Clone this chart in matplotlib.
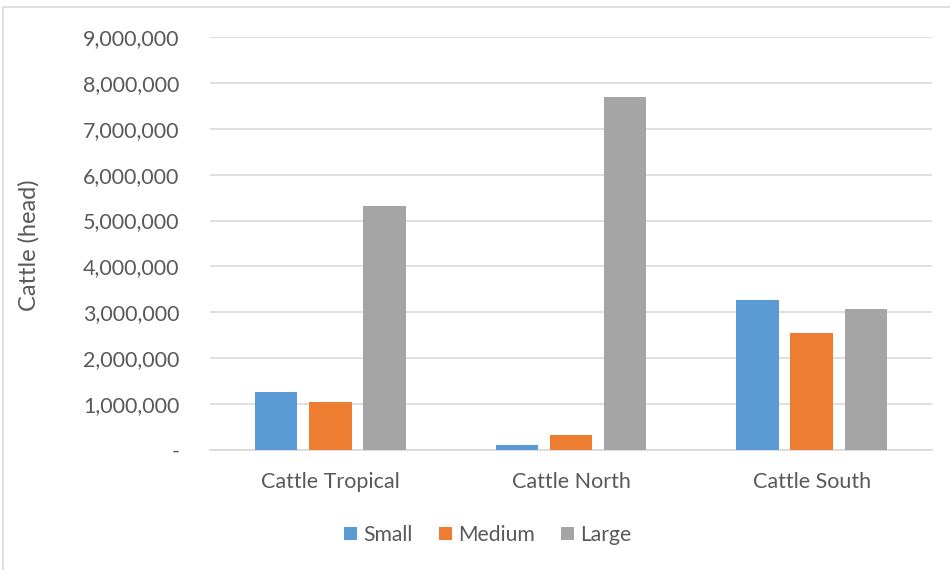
import matplotlib
matplotlib.use("Agg")
import matplotlib.pyplot as plt
from matplotlib.patches import Rectangle
from matplotlib.ticker import FuncFormatter
import numpy as np

categories = ["Cattle Tropical", "Cattle North", "Cattle South"]
series_names = ["Small", "Medium", "Large"]
small = [1270000, 100000, 3270000]
medium = [1040000, 320000, 2560000]
large = [5320000, 7690000, 3080000]
colors = ["#5B9BD5", "#ED7D31", "#A5A5A5"]

plt.rcParams['font.family'] = ['Lato', 'DejaVu Sans']
text_color = "#595959"

fig = plt.figure(figsize=(9.5, 5.7), dpi=100)
ax = fig.add_axes([210 / 950, 1 - 450 / 570, 722 / 950, 413 / 570])

x = np.arange(len(categories))
width = 0.176
step = 0.225
for j, (vals, name, c) in enumerate(zip([small, medium, large], series_names, colors)):
    ax.bar(x + (j - 1) * step, vals, width=width, color=c, label=name, zorder=3)

ax.set_xlim(-0.5, 2.5)
ax.set_ylim(0, 9000000)
ax.set_yticks(np.arange(0, 9000001, 1000000))
ax.yaxis.set_major_formatter(FuncFormatter(lambda v, p: "-" if v == 0 else f"{int(v):,}"))
ax.set_xticks(x)
ax.set_xticklabels(categories)

ax.grid(axis="y", color="#D9D9D9", linewidth=1.2, zorder=0)
for s in ["top", "right", "left"]:
    ax.spines[s].set_visible(False)
ax.spines["bottom"].set_color("#D9D9D9")
ax.spines["bottom"].set_linewidth(1.2)
ax.tick_params(axis="both", length=0, colors=text_color, labelsize=15.5)
ax.tick_params(axis="y", pad=22)
ax.tick_params(axis="x", pad=16)

fig.text(29 / 950, 1 - 245 / 570, "Cattle (head)", rotation=90, ha="center",
         va="center", fontsize=17, color=text_color)

fig.legend(loc="center", bbox_to_anchor=(488 / 950, 1 - 535 / 570), ncol=3,
           frameon=False, fontsize=15.2, handlelength=0.6, handleheight=0.6,
           handletextpad=0.3, columnspacing=1.25, labelcolor=text_color)

fig.patches.append(Rectangle((3 / 950, -0.1), 1.2, 1 - 7 / 570 + 0.1,
                             transform=fig.transFigure, fill=False,
                             edgecolor="#D9D9D9", linewidth=1.2))

fig.savefig("out.png", dpi=100)
